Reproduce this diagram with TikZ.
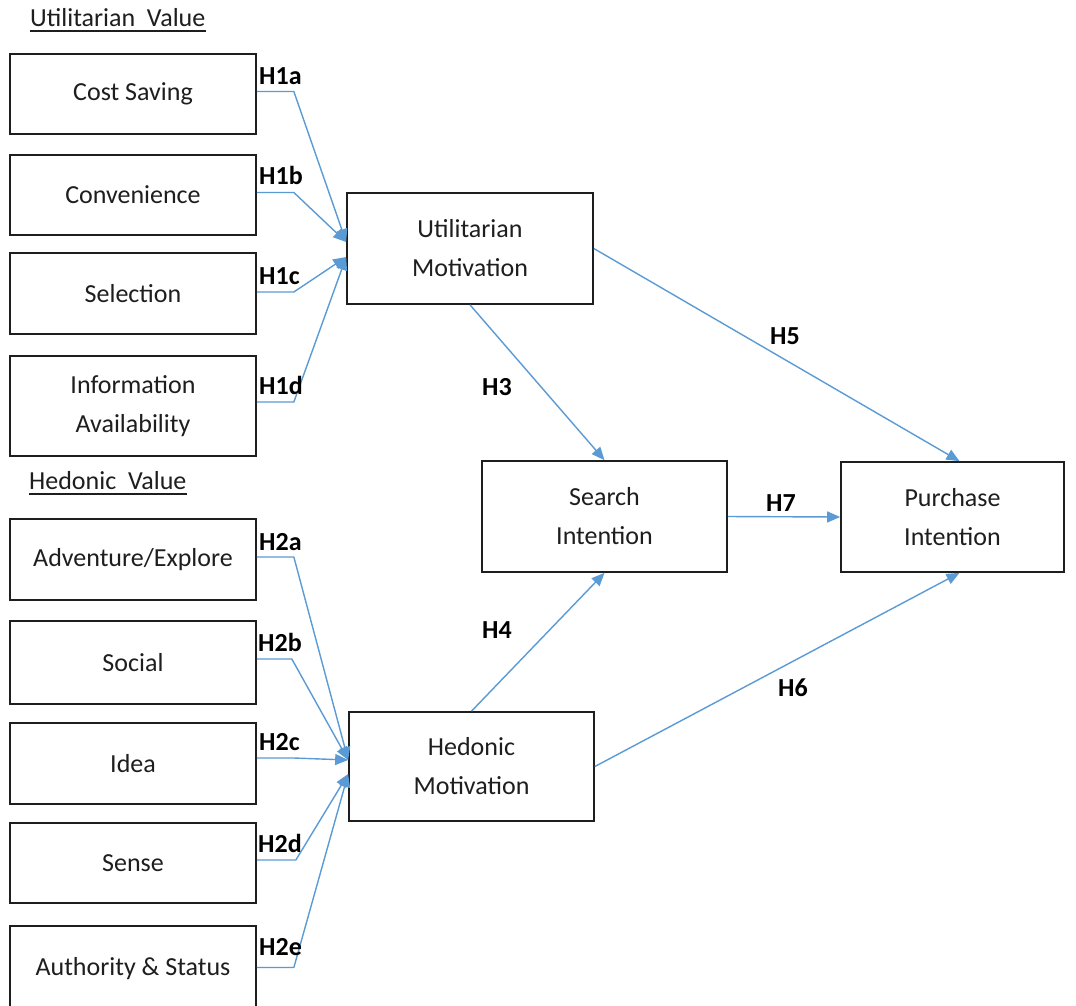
\documentclass[tikz,border=0pt]{standalone}
\usepackage{fontspec}
\setmainfont{Carlito}
\usetikzlibrary{arrows.meta}
\definecolor{arrowblue}{RGB}{91,155,213}
\definecolor{inkgray}{RGB}{30,30,30}
\begin{document}
\begin{tikzpicture}[x=1pt,y=-1pt,
  box/.style={draw=inkgray, line width=1.7pt, inner sep=0pt, align=center,
    font=\fontsize{26}{39}\selectfont, text=inkgray},
  conn/.style={draw=arrowblue, line width=1.4pt, line join=round,
    -{Triangle[length=13pt,width=11pt]}},
  hyp/.style={font=\fontsize{26}{30}\selectfont\bfseries, text=black, inner sep=0pt},
  hdr/.style={font=\fontsize{26}{30}\selectfont, text=inkgray, inner sep=0pt, anchor=base west}]
\useasboundingbox (0,0) rectangle (1076,1005);
\fill[white] (0,0) rectangle (1076,1005);

% headers
\node[hdr] (uvh) at (30,26) {Utilitarian~\ Value};
\draw[inkgray, line width=1.3pt] ([yshift=-5pt]uvh.base west) -- ([yshift=-5pt]uvh.base east);
\node[hdr] (hvh) at (29,489) {Hedonic~\ Value};
\draw[inkgray, line width=1.3pt] ([yshift=-5pt]hvh.base west) -- ([yshift=-5pt]hvh.base east);

% left boxes
\node[box, minimum width=246, minimum height=80] (cs) at (133,94) {Cost Saving};
\node[box, minimum width=246, minimum height=80] (cv) at (133,195) {Convenience};
\node[box, minimum width=246, minimum height=81] (se) at (133,293.5) {Selection};
\node[box, minimum width=246, minimum height=100] (ia) at (133,406) {Information\\Availability};
\node[box, minimum width=246, minimum height=81] (ad) at (133,559.5) {Adventure/Explore};
\node[box, minimum width=246, minimum height=83] (so) at (133,662.5) {Social};
\node[box, minimum width=246, minimum height=81] (id) at (133,763.5) {Idea};
\node[box, minimum width=246, minimum height=80] (sn) at (133,863) {Sense};
\node[box, minimum width=246, minimum height=86] (au) at (133,969) {\raisebox{5pt}{Authority \& Status}};

% central boxes
\node[box, minimum width=246, minimum height=111] (um) at (470,248.5) {Utilitarian\\Motivation};
\node[box, minimum width=245, minimum height=109] (hm) at (471.5,766.5) {Hedonic\\Motivation};
\node[box, minimum width=245, minimum height=111] (si) at (604.5,516.5) {Search\\Intention};
\node[box, minimum width=223, minimum height=110] (pi) at (952.5,517) {Purchase\\Intention};

% utilitarian value connectors
\draw[conn] ([yshift=2.5pt]cs.east) -- ++(37,0) -- ([yshift=6.5pt]um.west);
\draw[conn] ([yshift=2.5pt]cv.east) -- ++(37,0) -- ([yshift=6.5pt]um.west);
\draw[conn] ([yshift=1.5pt]se.east) -- ++(37,0) -- ([yshift=-8.5pt]um.west);
\draw[conn] ([yshift=4pt]ia.east) -- ++(37,0) -- ([yshift=-8.5pt]um.west);

% hedonic value connectors
\draw[conn] ([yshift=2.5pt]ad.east) -- ++(37,0) -- ([yshift=6.5pt]hm.west);
\draw[conn] ([yshift=3.5pt]so.east) -- ++(35,0) -- ([yshift=6.5pt]hm.west);
\draw[conn] ([yshift=5.5pt]id.east) -- ++(37,0) -- ([yshift=6.5pt]hm.west);
\draw[conn] ([yshift=3pt]sn.east) -- ++(39,0) -- ([yshift=-7.5pt]hm.west);
\draw[conn] ([yshift=1.5pt]au.east) -- ++(37,0) -- ([yshift=-7.5pt]hm.west);

% hypothesis labels (left)
\node[hyp, anchor=base west] (h1a) at (259,84) {H1a};
\node[hyp, anchor=base west] (h1b) at (259,184) {H1b};
\node[hyp, anchor=base west] (h1c) at (259,284) {H1c};
\node[hyp, anchor=base west] (h1d) at (259,394) {H1d};
\node[hyp, anchor=base west] (h2a) at (259,550) {H2a};
\node[hyp, anchor=base west] (h2b) at (258,651) {H2b};
\node[hyp, anchor=base west] (h2c) at (259,750) {H2c};
\node[hyp, anchor=base west] (h2d) at (258,852) {H2d};
\node[hyp, anchor=base west] (h2e) at (259,955) {H2e};

% structural connectors
\draw[conn] (um.south) -- (si.north);
\draw[conn] (hm.north) -- (si.south);
\draw[conn] (um.east) -- ([xshift=7pt]pi.north);
\draw[conn] (hm.east) -- ([xshift=7pt]pi.south);
\draw[conn] (si.east) -- (pi.west);

\node[hyp] (h3) at (497,387) {H3};
\node[hyp] (h4) at (497,630) {H4};
\node[hyp] (h5) at (785,336) {H5};
\node[hyp] (h6) at (793,688) {H6};
\node[hyp] (h7) at (781,503) {H7};
\end{tikzpicture}
\end{document}
